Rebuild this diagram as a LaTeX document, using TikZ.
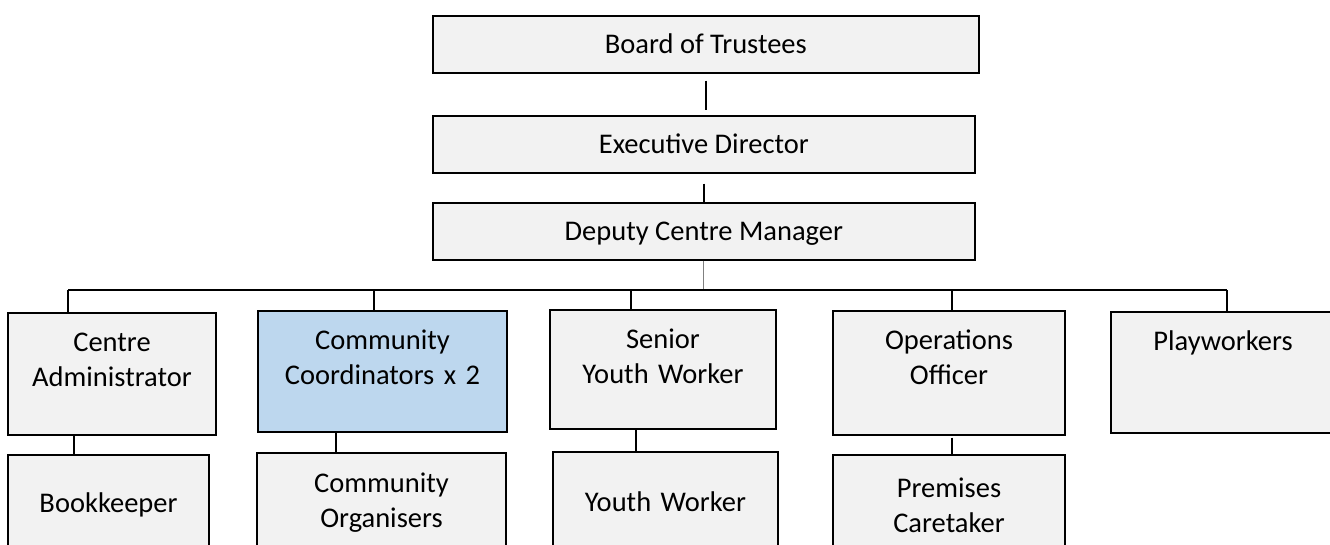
\documentclass[tikz,border=0pt]{standalone}
\usepackage{fontspec}
\setmainfont{Carlito}
\usepackage{xcolor}
\usepackage{tikz}

\definecolor{boxgray}{HTML}{F2F2F2}
\definecolor{boxblue}{HTML}{BDD7EE}

\begin{document}
\begin{tikzpicture}[x=1pt, y=-1pt,
  every node/.style={font=\fontsize{28.5}{34.8}\selectfont},
  post/.style={draw=black, line width=1.7pt, fill=boxgray, rectangle, inner sep=0pt, align=center},
  headpost/.style={post, anchor=north west, text height=38pt, text depth=19pt},
  rolepost/.style={post, anchor=north, text height=39pt},
  subpost/.style={post, minimum height=100pt},
  link/.style={line width=1.5pt}]
\useasboundingbox (0,0) rectangle (1330,544);
\clip (0,0) rectangle (1330,544);

% management chain
\node[headpost, minimum width=546] (board) at (432,15) {Board of Trustees};
\node[headpost, minimum width=542] (exec) at (432,115) {Executive Director};
\node[headpost, minimum width=542] (deputy) at (432,202) {Deputy Centre Manager};

% first line of staff
\node[rolepost, text width=208, text depth=83] (admin) at (112,312) {Centre\\Administrator};
\node[rolepost, fill=boxblue, text width=249, text depth=82] (coord) at (382.5,310) {Community\\Coordinators x 2};
\node[rolepost, text width=226, text depth=80] (senior) at (663,309) {Senior\\Youth Worker};
\node[rolepost, text width=232, text depth=85] (ops) at (949,310) {Operations\\Officer};
\node[rolepost, text width=240, text depth=82] (play) at (1231,311) {\hbox{Playworkers\kern16pt}};

% second line of staff
\node[subpost, text width=201] (book) at (108.5,505) {Bookkeeper};
\node[subpost, text width=249] (org) at (381.5,503) {Community\\Organisers};
\node[subpost, text width=225] (youth) at (665.5,502) {Youth Worker};
\node[subpost, text width=232] (prem) at (949,505) {Premises\\Caretaker};

% bus under the deputy
\coordinate (b1) at (68,290);
\coordinate (b2) at (374,290);
\coordinate (b3) at (631,290);
\coordinate (b4) at (952,290);
\coordinate (b5) at (1227,290);
\coordinate (k1) at (74,0);
\coordinate (k2) at (336,0);
\coordinate (k3) at (636,0);
\coordinate (k4) at (952,0);

\draw[link, shorten <=7pt, shorten >=5pt] (board.south) -- (board.south |- exec.north);
\draw[link, shorten <=10pt] (exec.south) -- (exec.south |- deputy.north);
\draw[line width=0.8pt, gray] (deputy.south) -- (deputy.south |- b1);
\draw[link] (b1) -- (b5);
\draw[link] (b1) -- (b1 |- admin.north);
\draw[link] (b2) -- (b2 |- coord.north);
\draw[link] (b3) -- (b3 |- senior.north);
\draw[link] (b4) -- (b4 |- ops.north);
\draw[link] (b5) -- (b5 |- play.north);

\draw[link] (admin.south -| k1) -- (book.north -| k1);
\draw[link] (coord.south -| k2) -- (org.north -| k2);
\draw[link] (senior.south -| k3) -- (youth.north -| k3);
\draw[link, shorten <=2pt] (ops.south -| k4) -- (prem.north -| k4);
\end{tikzpicture}
\end{document}
